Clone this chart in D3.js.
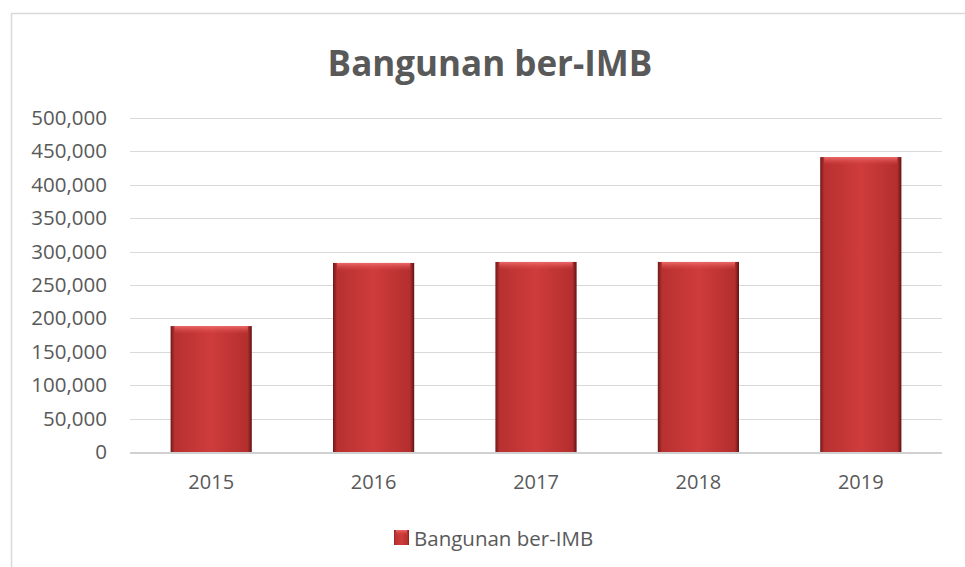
<!DOCTYPE html>
<html lang="en">
<head>
<meta charset="UTF-8">
<title>Bangunan ber-IMB</title>
<script src="https://cdnjs.cloudflare.com/ajax/libs/d3/7.8.5/d3.min.js"></script>
<style>
  html, body { margin: 0; padding: 0; background: #fff; }
  svg { display: block; font-family: "Open Sans", "Noto Sans", sans-serif; }
</style>
</head>
<body>
<script>
// data
var years = ["2015", "2016", "2017", "2018", "2019"];
var values = [188500, 283000, 284500, 284500, 441500];
var yTicks = [0, 50000, 100000, 150000, 200000, 250000, 300000, 350000, 400000, 450000, 500000];
var seriesName = "Bangunan ber-IMB";

var w = 965, h = 567;
var plotLeft = 130, plotRight = 942, plotTop = 118, plotBottom = 452;

var svg = d3.select("body").append("svg")
  .attr("width", w)
  .attr("height", h);

// gradients for the bevelled bars
var defs = svg.append("defs");
var g = defs.append("linearGradient").attr("id", "barGrad")
  .attr("x1", "0").attr("x2", "1").attr("y1", "0").attr("y2", "0");
g.append("stop").attr("offset", "0").attr("stop-color", "#6e1a1a");
g.append("stop").attr("offset", "0.05").attr("stop-color", "#b83030");
g.append("stop").attr("offset", "0.5").attr("stop-color", "#cf3c3c");
g.append("stop").attr("offset", "0.95").attr("stop-color", "#b42e2e");
g.append("stop").attr("offset", "1").attr("stop-color", "#5e1414");

var topG = defs.append("linearGradient").attr("id", "topGrad")
  .attr("x1", "0").attr("x2", "0").attr("y1", "0").attr("y2", "1");
topG.append("stop").attr("offset", "0").attr("stop-color", "#ec6a6a");
topG.append("stop").attr("offset", "1").attr("stop-color", "#d84444").attr("stop-opacity", 0);

// chart frame
svg.append("path")
  .attr("d", "M11.5," + h + "V13.5H" + w)
  .attr("fill", "none")
  .attr("stroke", "#d9d9d9")
  .attr("stroke-width", 1.5);

// title
svg.append("text")
  .attr("x", 490)
  .attr("y", 76)
  .attr("text-anchor", "middle")
  .attr("font-size", 35)
  .attr("font-weight", "bold")
  .attr("fill", "#595959")
  .text("Bangunan ber-IMB");

var x = d3.scaleBand().domain(years).range([plotLeft, plotRight]).paddingInner(0.5).paddingOuter(0.25);
var y = d3.scaleLinear().domain([0, 500000]).range([plotBottom, plotTop]);

// gridlines
svg.append("g").selectAll("line")
  .data(yTicks.filter(function(d){ return d > 0; }))
  .enter().append("line")
  .attr("x1", plotLeft).attr("x2", plotRight)
  .attr("y1", function(d){ return Math.round(y(d)) + 0.5; })
  .attr("y2", function(d){ return Math.round(y(d)) + 0.5; })
  .attr("stroke", "#d9d9d9")
  .attr("stroke-width", 1);

// y axis labels
var yAxis = d3.axisLeft(y).tickValues(yTicks).tickSize(0).tickPadding(23)
  .tickFormat(d3.format(","));
var ya = svg.append("g").attr("transform", "translate(" + plotLeft + ",0)").call(yAxis);
ya.select(".domain").remove();
ya.selectAll("text").attr("font-size", 20.5).attr("fill", "#595959")
  .attr("font-family", "'Open Sans', sans-serif");

// bars
var bars = svg.append("g").selectAll("g")
  .data(values)
  .enter().append("g");

bars.append("rect")
  .attr("x", function(d, i){ return x(years[i]); })
  .attr("y", function(d){ return y(d); })
  .attr("width", x.bandwidth())
  .attr("height", function(d){ return y(0) - y(d); })
  .attr("fill", "url(#barGrad)");

bars.append("rect")
  .attr("x", function(d, i){ return x(years[i]) + 4; })
  .attr("y", function(d){ return y(d); })
  .attr("width", x.bandwidth() - 8)
  .attr("height", 8)
  .attr("fill", "url(#topGrad)");

// zero line
svg.append("line")
  .attr("x1", plotLeft).attr("x2", plotRight)
  .attr("y1", plotBottom + 1).attr("y2", plotBottom + 1)
  .attr("stroke", "#d0d0d0")
  .attr("stroke-width", 2);

// x axis labels
var xAxis = d3.axisBottom(x).tickSize(0).tickPadding(23);
var xa = svg.append("g").attr("transform", "translate(0," + plotBottom + ")").call(xAxis);
xa.select(".domain").remove();
xa.selectAll("text").attr("font-size", 20).attr("fill", "#595959")
  .attr("font-family", "'Open Sans', sans-serif");

// legend
var lg = svg.append("g").attr("transform", "translate(394,530)");
lg.append("rect")
  .attr("width", 15).attr("height", 15)
  .attr("fill", "url(#barGrad)");
lg.append("rect")
  .attr("x", 2).attr("width", 11).attr("height", 5)
  .attr("fill", "url(#topGrad)");
lg.append("text")
  .attr("x", 20)
  .attr("y", 15.5)
  .attr("font-size", 20.5)
  .attr("fill", "#595959")
  .text(seriesName);
</script>
</body>
</html>
